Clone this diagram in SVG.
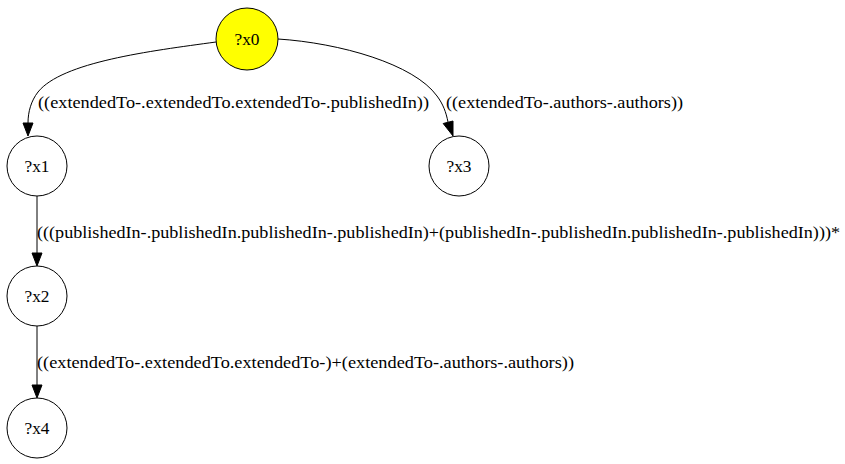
<svg xmlns="http://www.w3.org/2000/svg" width="845" height="464" viewBox="0 0 845 464">
  <style>
    .node ellipse { stroke: #000; stroke-width: 1; }
    .edge path { fill: none; stroke: #000; stroke-width: 1; }
    .edge polygon { fill: #000; stroke: #000; stroke-width: 1; }
    text { font-family: "Liberation Serif", "Times New Roman", "DejaVu Serif", serif; font-size: 17px; fill: #000; }
    .nlabel { text-anchor: middle; }
  </style>
  <rect width="845" height="464" fill="#fff"/>

  <g id="connectors">
    <g class="edge" id="e_x0_x1">
      <path d="M216,42 C150,51 62,62 38,92 C31,101 28,112 28,123"/>
      <polygon points="23,123 28,136 33,123 23,123"/>
      <text x="38" y="108" textLength="391" lengthAdjust="spacingAndGlyphs">((extendedTo-.extendedTo.extendedTo-.publishedIn))</text>
    </g>
    <g class="edge" id="e_x0_x3">
      <path d="M278,39 C340,43 414,64 437,96 C443,104 446,112 448,122"/>
      <polygon points="443.2,123.5 453,136 453,121 443.2,123.5"/>
      <text x="446" y="108" textLength="237" lengthAdjust="spacingAndGlyphs">((extendedTo-.authors-.authors))</text>
    </g>
    <g class="edge" id="e_x1_x2">
      <path d="M37,196 L37,253"/>
      <polygon points="32,253 37,266 42,253 32,253"/>
      <text x="37" y="238" textLength="803" lengthAdjust="spacingAndGlyphs">(((publishedIn-.publishedIn.publishedIn-.publishedIn)+(publishedIn-.publishedIn.publishedIn-.publishedIn)))*</text>
    </g>
    <g class="edge" id="e_x2_x4">
      <path d="M37,326 L37,385"/>
      <polygon points="32,385 37,398 42,385 32,385"/>
      <text x="37" y="368" textLength="537" lengthAdjust="spacingAndGlyphs">((extendedTo-.extendedTo.extendedTo-)+(extendedTo-.authors-.authors))</text>
    </g>
  </g>

  <g class="node" id="x0">
    <ellipse cx="247" cy="39" rx="31" ry="31" fill="#ffff00"/>
    <text class="nlabel" x="247" y="45" textLength="25" lengthAdjust="spacingAndGlyphs">?x0</text>
  </g>
  <g class="node" id="x1">
    <ellipse cx="37" cy="166" rx="30" ry="30" fill="none"/>
    <text class="nlabel" x="37" y="172" textLength="25" lengthAdjust="spacingAndGlyphs">?x1</text>
  </g>
  <g class="node" id="x3">
    <ellipse cx="459" cy="166" rx="30" ry="30" fill="none"/>
    <text class="nlabel" x="459" y="172" textLength="25" lengthAdjust="spacingAndGlyphs">?x3</text>
  </g>
  <g class="node" id="x2">
    <ellipse cx="37" cy="296" rx="30" ry="30" fill="none"/>
    <text class="nlabel" x="37" y="302" textLength="25" lengthAdjust="spacingAndGlyphs">?x2</text>
  </g>
  <g class="node" id="x4">
    <ellipse cx="37" cy="428" rx="30" ry="30" fill="none"/>
    <text class="nlabel" x="37" y="434" textLength="25" lengthAdjust="spacingAndGlyphs">?x4</text>
  </g>
</svg>
